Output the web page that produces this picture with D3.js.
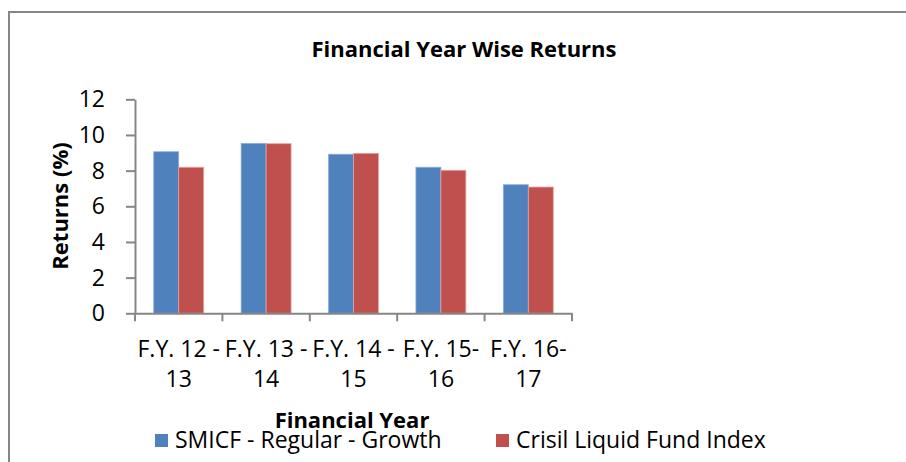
<!DOCTYPE html>
<html>
<head>
<meta charset="utf-8">
<script src="https://cdn.jsdelivr.net/npm/d3@7"></script>
<style>
  body { margin: 0; background: #fff; }
  svg { display: block; font-family: "Open Sans", sans-serif; }
</style>
</head>
<body>
<svg id="chart" width="906" height="462"></svg>
<script>
// chart data
const categories = ["F.Y. 12 - 13", "F.Y. 13 - 14", "F.Y. 14 - 15", "F.Y. 15-16", "F.Y. 16-17"];
const tickLines = [["F.Y. 12 -", "13"], ["F.Y. 13 -", "14"], ["F.Y. 14 -", "15"], ["F.Y. 15-", "16"], ["F.Y. 16-", "17"]];
const seriesNames = ["SMICF - Regular - Growth", "Crisil Liquid Fund Index"];
const smicf = [9.06, 9.53, 8.92, 8.19, 7.21];
const crisil = [8.19, 9.51, 8.97, 8.02, 7.08];
const yTicks = [0, 2, 4, 6, 8, 10, 12];
const colors = ["#4F81BD", "#C0504D"];

const svg = d3.select("#chart");

// outer chart border
svg.append("rect")
  .attr("x", 9).attr("y", 12)
  .attr("width", 906).attr("height", 470)
  .attr("fill", "none")
  .attr("stroke", "#868686")
  .attr("stroke-width", 2);

const plot = { left: 135, right: 572, top: 99.3, bottom: 313.3 };

const x = d3.scaleBand().domain(categories).range([plot.left, plot.right]);
const xs = d3.scaleBand().domain(seriesNames).range([0, x.bandwidth()]).paddingOuter(0.75).paddingInner(0);
const y = d3.scaleLinear().domain([0, 12]).range([plot.bottom, plot.top]);

svg.append("text")
  .attr("x", 464).attr("y", 57)
  .attr("text-anchor", "middle")
  .attr("font-size", 22).attr("font-weight", "bold")
  .text("Financial Year Wise Returns");

// bars
const rows = categories.map((c, i) => ({ cat: c, vals: [smicf[i], crisil[i]] }));
const groups = svg.append("g").selectAll("g").data(rows).join("g")
  .attr("transform", d => `translate(${x(d.cat)},0)`);
groups.selectAll("rect")
  .data(d => d.vals.map((v, j) => ({ name: seriesNames[j], v, j })))
  .join("rect")
  .attr("x", d => xs(d.name))
  .attr("y", d => y(d.v))
  .attr("width", xs.bandwidth())
  .attr("height", d => y(0) - y(d.v))
  .attr("fill", d => colors[d.j])
  .attr("stroke", d => d.j === 0 ? "#8EAEDB" : "#E4A5A3")
  .attr("stroke-width", 0.8);

// y axis
const yAxis = svg.append("g")
  .attr("transform", `translate(${plot.left},0)`)
  .call(d3.axisLeft(y).tickValues(yTicks).tickSize(9).tickPadding(21).tickSizeOuter(0));
yAxis.select(".domain").attr("stroke", "#868686").attr("stroke-width", 2);
yAxis.selectAll(".tick line").attr("stroke", "#868686").attr("stroke-width", 2);
yAxis.selectAll(".tick text")
  .attr("font-family", "'Open Sans', sans-serif")
  .attr("font-size", 23).attr("fill", "#000");

// x axis
const xAxis = svg.append("g")
  .attr("transform", `translate(0,${plot.bottom})`)
  .call(d3.axisBottom(x).tickSize(0).tickFormat(""));
xAxis.select(".domain").attr("stroke", "#868686").attr("stroke-width", 2);
xAxis.selectAll(".tick").remove();
const edges = categories.map(c => x(c)).concat([plot.right]);
xAxis.selectAll("line.edge").data(edges).join("line")
  .attr("class", "edge")
  .attr("x1", d => d).attr("x2", d => d)
  .attr("y1", 0).attr("y2", 8)
  .attr("stroke", "#868686").attr("stroke-width", 2);

const labels = svg.append("g").selectAll("text").data(categories).join("text")
  .attr("text-anchor", "middle")
  .attr("font-size", 23)
  .attr("transform", c => `translate(${x(c) + x.bandwidth() / 2},0)`);
labels.selectAll("tspan")
  .data((c, i) => tickLines[i])
  .join("tspan")
  .attr("x", 0)
  .attr("y", (d, k) => 357 + k * 30)
  .text(d => d);

// axis titles
svg.append("text")
  .attr("transform", "translate(68,206) rotate(-90)")
  .attr("text-anchor", "middle")
  .attr("font-size", 22).attr("font-weight", "bold")
  .text("Returns (%)");

svg.append("text")
  .attr("x", 352).attr("y", 428)
  .attr("text-anchor", "middle")
  .attr("font-size", 22).attr("font-weight", "bold")
  .text("Financial Year");

// legend
const legendX = [155, 496];
const legend = svg.append("g").selectAll("g").data(seriesNames).join("g")
  .attr("transform", (d, i) => `translate(${legendX[i]},434)`);
legend.append("rect")
  .attr("width", 13).attr("height", 13)
  .attr("fill", (d, i) => colors[i]);
legend.append("text")
  .attr("x", 20).attr("y", 14)
  .attr("font-size", 23)
  .text(d => d);
</script>
</body>
</html>
